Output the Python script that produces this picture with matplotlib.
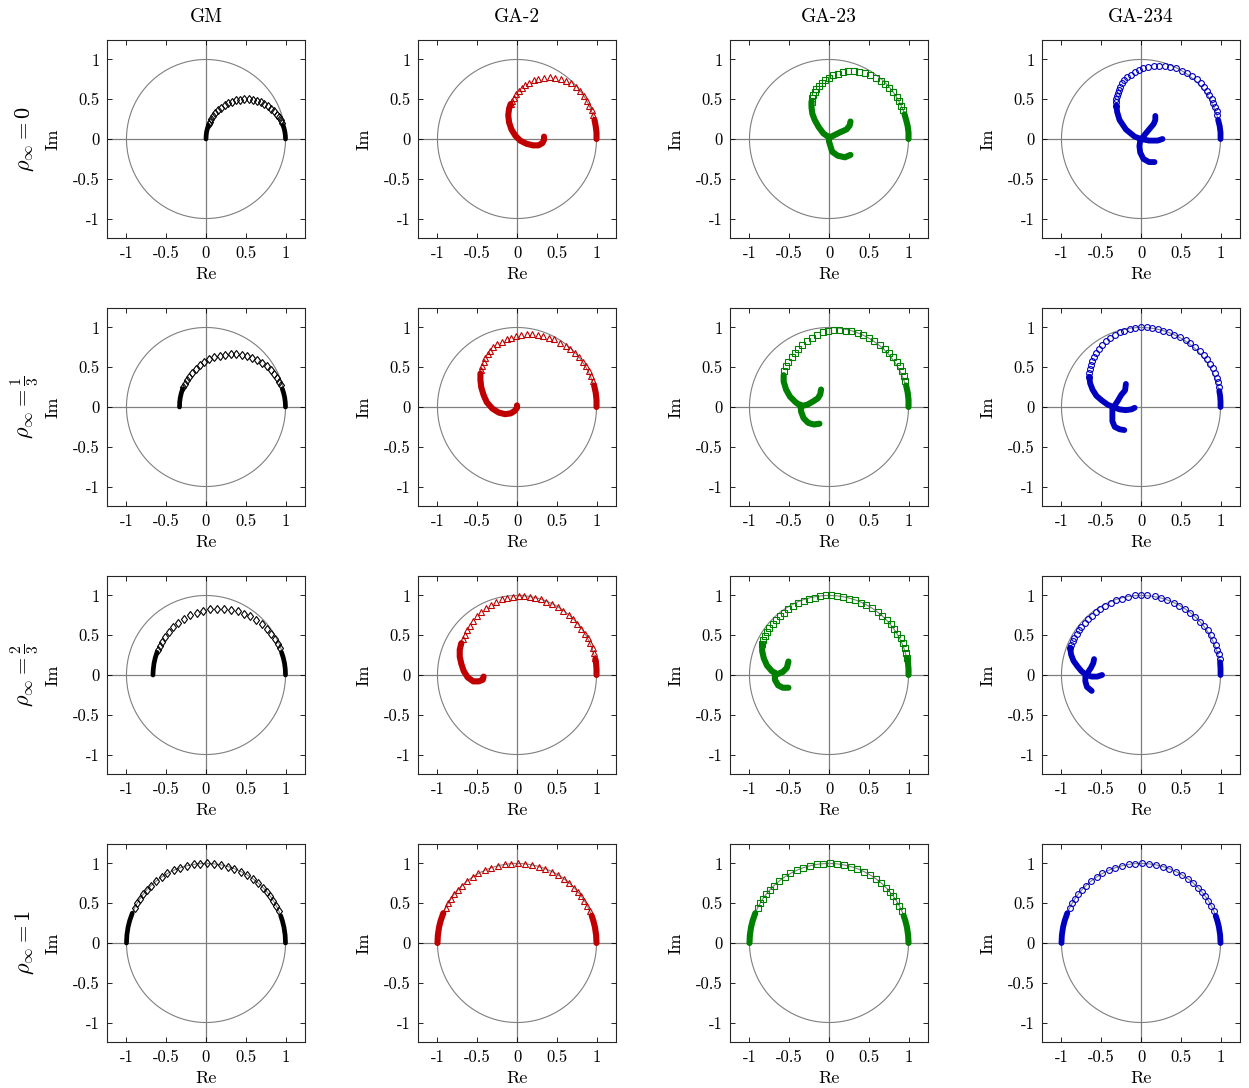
## Eigenvalue loci of GM and GA-2/23/234 schemes in the complex plane ##
import numpy as np
import matplotlib.pyplot as plt

plt.rcParams['font.family'] = 'serif'
plt.rcParams['font.serif'] = ['cmr10', 'DejaVu Serif']
plt.rcParams['mathtext.fontset'] = 'cm'
plt.rcParams['axes.unicode_minus'] = False
plt.rcParams['axes.formatter.use_mathtext'] = True

##############################################################################
############################     Data     ####################################
##############################################################################
methods = ['GM', 'GA-2', 'GA-23', 'GA-234']
rho_labels = [r'$\rho_\infty = 0$', r'$\rho_\infty = \frac{1}{3}$',
              r'$\rho_\infty = \frac{2}{3}$', r'$\rho_\infty = 1$']
ticks = [-1, -0.5, 0, 0.5, 1]
tick_labels = ['-1', '-0.5', '0', '0.5', '1']

# "arc" = isolated samples (open markers), "band" = samples packed so
# tightly that they merge into a solid stroke

# rho_inf = 1 : every scheme gives the upper unit semicircle
rho1_arc_re = [0.914, 0.883, 0.848, 0.809, 0.766, 0.719, 0.656, 0.588, 0.515, 0.438,
               0.358, 0.276, 0.191, 0.105, 0.017, -0.070, -0.156, -0.242, -0.326, -0.407,
               -0.485, -0.559, -0.629, -0.695, -0.743, -0.788, -0.829, -0.866, -0.899]
rho1_arc_im = [0.407, 0.469, 0.530, 0.588, 0.643, 0.695, 0.755, 0.809, 0.857, 0.899,
               0.934, 0.961, 0.982, 0.995, 1.000, 0.998, 0.988, 0.970, 0.946, 0.914,
               0.875, 0.829, 0.777, 0.719, 0.669, 0.616, 0.559, 0.500, 0.438]
rho1_band_re = [[1.0, 0.995, 0.98, 0.96, 0.94], [-0.927, -0.96, -0.98, -0.995, -1.0]]
rho1_band_im = [[0.0, 0.10, 0.20, 0.28, 0.342], [0.375, 0.28, 0.20, 0.10, 0.0]]

# GM, rho_inf = 0, 1/3, 2/3
gm_arc_re = [
    [0.957, 0.941, 0.919, 0.894, 0.859, 0.821, 0.779, 0.734, 0.687, 0.638, 0.587, 0.535, 0.482,
     0.430, 0.379, 0.329, 0.281, 0.235, 0.192, 0.152, 0.117, 0.090, 0.067, 0.050, 0.036],
    [0.943, 0.922, 0.893, 0.859, 0.813, 0.762, 0.706, 0.646, 0.583, 0.517, 0.449, 0.380, 0.310,
     0.240, 0.172, 0.105, 0.041, -0.021, -0.078, -0.131, -0.178, -0.213, -0.245, -0.267, -0.285],
    [0.928, 0.903, 0.866, 0.823, 0.766, 0.703, 0.633, 0.558, 0.479, 0.397, 0.312, 0.225, 0.138,
     0.051, -0.035, -0.118, -0.198, -0.274, -0.346, -0.412, -0.471, -0.515, -0.554, -0.582, -0.605],
]
gm_arc_im = [
    [0.204, 0.234, 0.272, 0.308, 0.347, 0.383, 0.414, 0.441, 0.463, 0.480, 0.492, 0.499, 0.499,
     0.495, 0.485, 0.470, 0.449, 0.424, 0.394, 0.359, 0.321, 0.287, 0.250, 0.219, 0.187],
    [0.271, 0.313, 0.364, 0.411, 0.464, 0.511, 0.553, 0.589, 0.618, 0.641, 0.657, 0.666, 0.666,
     0.660, 0.647, 0.627, 0.600, 0.566, 0.526, 0.480, 0.429, 0.383, 0.334, 0.292, 0.250],
    [0.339, 0.391, 0.454, 0.513, 0.579, 0.638, 0.691, 0.736, 0.772, 0.801, 0.821, 0.831, 0.832,
     0.825, 0.808, 0.783, 0.749, 0.706, 0.656, 0.599, 0.536, 0.478, 0.417, 0.365, 0.312],
]
gm_band_re = [
    [[1.0, 0.998, 0.992, 0.983, 0.970], [0.030, 0.017, 0.007, 0.002, 0.0]],
    [[1.0, 0.997, 0.990, 0.977, 0.960], [-0.294, -0.311, -0.324, -0.331, -0.333]],
    [[1.0, 0.997, 0.988, 0.972, 0.950], [-0.616, -0.638, -0.654, -0.663, -0.667]],
]
gm_band_im = [
    [[0.0, 0.044, 0.087, 0.129, 0.171], [0.171, 0.129, 0.087, 0.044, 0.0]],
    [[0.0, 0.058, 0.116, 0.173, 0.228], [0.228, 0.173, 0.116, 0.058, 0.0]],
    [[0.0, 0.072, 0.145, 0.216, 0.285], [0.285, 0.216, 0.145, 0.072, 0.0]],
]

# GA-2
ga2_arc_re = [
    [0.96, 0.94, 0.91, 0.88, 0.84, 0.79, 0.74, 0.68, 0.62, 0.55, 0.48, 0.41, 0.34, 0.27, 0.21,
     0.15, 0.10, 0.06, 0.02, -0.01, -0.04, -0.06, -0.08],
    [0.95, 0.93, 0.90, 0.87, 0.83, 0.78, 0.73, 0.67, 0.61, 0.54, 0.47, 0.40, 0.33, 0.26, 0.19,
     0.12, 0.05, -0.01, -0.07, -0.13, -0.19, -0.25, -0.30, -0.34, -0.37, -0.40, -0.42, -0.44, -0.45],
    [0.98, 0.97, 0.95, 0.92, 0.89, 0.85, 0.81, 0.76, 0.71, 0.65, 0.58, 0.51, 0.44, 0.37, 0.30,
     0.23, 0.16, 0.09, 0.02, -0.05, -0.12, -0.19, -0.26, -0.33, -0.39, -0.45, -0.50, -0.55, -0.59,
     -0.63, -0.66, -0.68],
]
ga2_arc_im = [
    [0.30, 0.36, 0.42, 0.48, 0.54, 0.60, 0.65, 0.70, 0.73, 0.76, 0.77, 0.78, 0.77, 0.76, 0.74,
     0.71, 0.68, 0.64, 0.60, 0.56, 0.52, 0.48, 0.44],
    [0.33, 0.39, 0.45, 0.51, 0.57, 0.63, 0.68, 0.73, 0.77, 0.81, 0.85, 0.87, 0.89, 0.91, 0.92,
     0.92, 0.91, 0.89, 0.87, 0.85, 0.82, 0.79, 0.75, 0.71, 0.67, 0.62, 0.57, 0.52, 0.47],
    [0.22, 0.28, 0.34, 0.40, 0.46, 0.52, 0.58, 0.64, 0.70, 0.75, 0.80, 0.85, 0.89, 0.92, 0.95,
     0.97, 0.98, 0.99, 0.99, 0.98, 0.97, 0.95, 0.92, 0.88, 0.84, 0.79, 0.74, 0.68, 0.62,
     0.56, 0.50, 0.45],
]
ga2_band_re = [
    [[1.0, 1.0, 0.99, 0.975],
     [-0.08, -0.10, -0.11, -0.10, -0.07, -0.02, 0.04, 0.12, 0.20, 0.27, 0.32, 0.34, 0.34]],
    [[1.0, 1.0, 0.99, 0.97],
     [-0.46, -0.46, -0.45, -0.42, -0.38, -0.31, -0.23, -0.15, -0.08, -0.03, 0.0, 0.0]],
    [[1.0, 1.0, 0.995, 0.985],
     [-0.70, -0.72, -0.72, -0.70, -0.67, -0.62, -0.55, -0.48, -0.43, -0.42]],
]
ga2_band_im = [
    [[0.0, 0.08, 0.16, 0.24],
     [0.44, 0.38, 0.30, 0.21, 0.12, 0.04, -0.02, -0.06, -0.08, -0.08, -0.05, -0.01, 0.03]],
    [[0.0, 0.09, 0.18, 0.27],
     [0.42, 0.34, 0.25, 0.15, 0.06, -0.02, -0.07, -0.09, -0.08, -0.05, -0.01, 0.02]],
    [[0.0, 0.07, 0.14, 0.20],
     [0.40, 0.32, 0.23, 0.14, 0.05, -0.03, -0.08, -0.08, -0.06, -0.02]],
]

# GA-23
ga23_arc_re = [
    [0.93, 0.91, 0.88, 0.85, 0.81, 0.76, 0.71, 0.65, 0.59, 0.52, 0.45, 0.38, 0.31, 0.24, 0.17,
     0.11, 0.05, 0.0, -0.05, -0.09, -0.13, -0.16, -0.18, -0.20, -0.21, -0.22],
    [0.96, 0.94, 0.92, 0.89, 0.85, 0.81, 0.76, 0.70, 0.64, 0.57, 0.50, 0.43, 0.36, 0.28, 0.21,
     0.13, 0.06, -0.01, -0.08, -0.15, -0.22, -0.28, -0.34, -0.39, -0.43, -0.47, -0.51, -0.54, -0.56],
    [0.98, 0.97, 0.95, 0.93, 0.90, 0.86, 0.82, 0.78, 0.73, 0.67, 0.61, 0.54, 0.47, 0.40, 0.33,
     0.25, 0.18, 0.10, 0.03, -0.04, -0.11, -0.18, -0.25, -0.32, -0.39, -0.45, -0.51, -0.57,
     -0.62, -0.67, -0.71, -0.75, -0.78, -0.81, -0.83, -0.84],
]
ga23_arc_im = [
    [0.37, 0.42, 0.48, 0.53, 0.59, 0.64, 0.69, 0.73, 0.77, 0.80, 0.83, 0.84, 0.85, 0.85, 0.84,
     0.82, 0.80, 0.77, 0.74, 0.71, 0.67, 0.63, 0.59, 0.55, 0.51, 0.47],
    [0.33, 0.39, 0.45, 0.51, 0.57, 0.63, 0.68, 0.73, 0.78, 0.83, 0.87, 0.90, 0.93, 0.95, 0.96,
     0.97, 0.97, 0.96, 0.94, 0.91, 0.87, 0.83, 0.78, 0.73, 0.68, 0.63, 0.57, 0.51, 0.45],
    [0.22, 0.28, 0.34, 0.40, 0.46, 0.52, 0.58, 0.64, 0.69, 0.74, 0.79, 0.84, 0.88, 0.91, 0.94,
     0.96, 0.98, 0.99, 1.00, 1.00, 0.99, 0.97, 0.95, 0.93, 0.90, 0.87, 0.83, 0.78,
     0.74, 0.69, 0.64, 0.59, 0.54, 0.49, 0.44, 0.39],
]
ga23_band_re = [
    [[1.0, 1.0, 0.99, 0.97, 0.95],
     [-0.22, -0.22, -0.21, -0.18, -0.13, -0.07, 0.0, 0.03, 0.13, 0.22, 0.26, 0.27],
     [0.0, 0.0, 0.04, 0.11, 0.20, 0.27]],
    [[1.0, 1.0, 0.99, 0.97],
     [-0.57, -0.57, -0.54, -0.49, -0.42, -0.35, -0.27, -0.20, -0.14, -0.11, -0.10],
     [-0.36, -0.35, -0.32, -0.26, -0.19, -0.12]],
    [[1.0, 1.0, 0.995, 0.985],
     [-0.84, -0.84, -0.82, -0.78, -0.72, -0.65, -0.58, -0.53, -0.51],
     [-0.68, -0.68, -0.64, -0.58, -0.51]],
]
ga23_band_im = [
    [[0.0, 0.08, 0.16, 0.24, 0.31],
     [0.47, 0.40, 0.32, 0.24, 0.15, 0.07, 0.02, 0.03, 0.08, 0.12, 0.17, 0.22],
     [0.03, -0.03, -0.16, -0.21, -0.23, -0.20]],
    [[0.0, 0.09, 0.18, 0.27],
     [0.40, 0.32, 0.22, 0.13, 0.06, 0.01, 0.03, 0.07, 0.11, 0.16, 0.22],
     [0.03, -0.06, -0.14, -0.20, -0.22, -0.21]],
    [[0.0, 0.07, 0.14, 0.20],
     [0.39, 0.30, 0.21, 0.12, 0.05, 0.01, 0.04, 0.09, 0.17],
     [0.02, -0.06, -0.13, -0.16, -0.16]],
]

# GA-234
ga234_arc_re = [
    [0.96, 0.95, 0.93, 0.91, 0.89, 0.86, 0.83, 0.79, 0.75, 0.70, 0.64, 0.58, 0.51, 0.44, 0.37,
     0.30, 0.23, 0.16, 0.09, 0.03, -0.03, -0.08, -0.13, -0.17, -0.21, -0.24, -0.26, -0.28,
     -0.29, -0.30, -0.31, -0.31, -0.31],
    [0.98, 0.97, 0.95, 0.93, 0.90, 0.87, 0.83, 0.79, 0.74, 0.68, 0.62, 0.56, 0.49, 0.42, 0.35,
     0.28, 0.21, 0.14, 0.07, 0.0, -0.07, -0.14, -0.21, -0.27, -0.33, -0.39, -0.44, -0.49,
     -0.53, -0.56, -0.59, -0.61, -0.63, -0.64, -0.65, -0.65],
    [0.99, 0.98, 0.96, 0.94, 0.91, 0.88, 0.84, 0.79, 0.74, 0.68, 0.62, 0.55, 0.48, 0.41, 0.33,
     0.25, 0.17, 0.08, 0.0, -0.08, -0.16, -0.24, -0.31, -0.38, -0.45, -0.51, -0.57, -0.62,
     -0.67, -0.71, -0.75, -0.78, -0.81, -0.84, -0.86, -0.88, -0.89],
]
ga234_arc_im = [
    [0.30, 0.35, 0.40, 0.45, 0.50, 0.55, 0.60, 0.65, 0.70, 0.75, 0.79, 0.83, 0.86, 0.89, 0.91,
     0.92, 0.92, 0.92, 0.91, 0.89, 0.87, 0.84, 0.81, 0.78, 0.74, 0.70, 0.66, 0.62,
     0.58, 0.54, 0.50, 0.46, 0.42],
    [0.25, 0.31, 0.37, 0.43, 0.49, 0.54, 0.60, 0.65, 0.70, 0.75, 0.80, 0.84, 0.88, 0.91, 0.94,
     0.96, 0.98, 0.99, 1.0, 1.0, 0.99, 0.98, 0.96, 0.94, 0.91, 0.87, 0.83, 0.78,
     0.73, 0.68, 0.63, 0.58, 0.53, 0.48, 0.43, 0.38],
    [0.20, 0.26, 0.32, 0.38, 0.44, 0.50, 0.56, 0.62, 0.67, 0.73, 0.78, 0.83, 0.87, 0.91, 0.94,
     0.97, 0.99, 1.0, 1.0, 1.0, 0.98, 0.96, 0.94, 0.91, 0.87, 0.83, 0.79, 0.74,
     0.70, 0.65, 0.60, 0.56, 0.51, 0.47, 0.43, 0.38, 0.34],
]
ga234_band_re = [
    [[1.0, 1.0, 0.99, 0.97],
     [-0.31, -0.30, -0.27, -0.19, -0.08, 0.0, 0.10, 0.21, 0.27],
     [0.02, 0.06, 0.11, 0.16, 0.18, 0.18],
     [-0.01, -0.02, -0.01, 0.03, 0.10, 0.17]],
    [[1.0, 1.0, 0.995, 0.985],
     [-0.65, -0.64, -0.61, -0.56, -0.49, -0.42, -0.35, -0.27, -0.19, -0.12, -0.08],
     [-0.33, -0.29, -0.25, -0.20, -0.19],
     [-0.36, -0.36, -0.36, -0.33, -0.27, -0.21]],
    [[1.0, 1.0, 0.995],
     [-0.89, -0.88, -0.85, -0.80, -0.75, -0.69, -0.62, -0.55, -0.49],
     [-0.67, -0.63, -0.60, -0.59],
     [-0.70, -0.70, -0.68, -0.62]],
]
ga234_band_im = [
    [[0.0, 0.08, 0.16, 0.24],
     [0.42, 0.34, 0.24, 0.12, 0.03, 0.0, -0.02, -0.02, 0.0],
     [0.02, 0.07, 0.13, 0.19, 0.24, 0.29],
     [-0.02, -0.09, -0.17, -0.25, -0.29, -0.29]],
    [[0.0, 0.07, 0.14, 0.20],
     [0.38, 0.30, 0.22, 0.14, 0.08, 0.03, 0.0, -0.03, -0.04, -0.03, -0.01],
     [0.02, 0.08, 0.15, 0.21, 0.29],
     [-0.02, -0.10, -0.18, -0.25, -0.28, -0.29]],
    [[0.0, 0.08, 0.16],
     [0.34, 0.26, 0.18, 0.11, 0.05, 0.0, -0.02, -0.02, 0.0],
     [0.03, 0.09, 0.15, 0.20],
     [-0.01, -0.08, -0.15, -0.20]],
]

##############################################################################
##########################     Figure        #################################
##############################################################################
arc_re = [gm_arc_re, ga2_arc_re, ga23_arc_re, ga234_arc_re]
arc_im = [gm_arc_im, ga2_arc_im, ga23_arc_im, ga234_arc_im]
band_re = [gm_band_re, ga2_band_re, ga23_band_re, ga234_band_re]
band_im = [gm_band_im, ga2_band_im, ga23_band_im, ga234_band_im]

colors = ['black', '#c00000', '#008000', '#0000c0']
markers = ['d', '^', 's', 'o']
msizes = [4.3, 4.6, 3.8, 4.2]
band_lw = [3.4, 4.4, 4.4, 4.2]

W, H = 1249, 1088
col_zero = [206, 517, 829, 1141]  # pixel centre (origin) of each column
row_zero = [139, 407, 675, 943]   # pixel centre (origin) of each row
half = 99.4                       # half axes size in pixels

fig = plt.figure(figsize=(W / 100, H / 100), dpi=100)
theta = np.linspace(0, 2 * np.pi, 400)

for j in range(4):
    c = colors[j]
    for i in range(4):
        ax = fig.add_axes([(col_zero[j] - half) / W, 1 - (row_zero[i] + half) / H,
                           2 * half / W, 2 * half / H])
        ax.plot(np.cos(theta), np.sin(theta), color='#7f7f7f', lw=0.8, zorder=1)
        ax.axhline(0, color='#7f7f7f', lw=0.9, zorder=1)
        ax.axvline(0, color='#7f7f7f', lw=0.9, zorder=1)

        if i < 3:
            re, im = arc_re[j][i], arc_im[j][i]
            bre, bim = band_re[j][i], band_im[j][i]
        else:
            re, im = rho1_arc_re, rho1_arc_im
            bre, bim = rho1_band_re, rho1_band_im

        for bx, by in zip(bre, bim):
            ax.plot(bx, by, '-', color=c, lw=band_lw[j], solid_capstyle='round',
                    solid_joinstyle='round', zorder=2)
        ax.plot(re, im, ls='none', marker=markers[j], ms=msizes[j], mfc='none',
                mec=c, mew=0.8, zorder=3)

        ax.set_xlim(-1.25, 1.25)
        ax.set_ylim(-1.25, 1.25)
        ax.set_xticks(ticks)
        ax.set_xticklabels(tick_labels)
        ax.set_yticks(ticks)
        ax.set_yticklabels(tick_labels)
        ax.tick_params(direction='in', top=True, right=True, length=3.5, width=0.6,
                       labelsize=12, pad=5)
        for sp in ax.spines.values():
            sp.set_linewidth(0.8)
            sp.set_color('#262626')
        ax.set_xlabel('Re', fontsize=13)
        ax.set_ylabel('Im', fontsize=13)
        ax.xaxis.set_label_coords(0.5, -0.14)
        ax.yaxis.set_label_coords(-0.23, 0.5)

for j, name in enumerate(methods):
    fig.text(col_zero[j] / W, 1 - 17 / H, name, ha='center', va='center', fontsize=14)
for i, lab in enumerate(rho_labels):
    fig.text(25 / W, 1 - row_zero[i] / H, lab, ha='center', va='center',
             rotation=90, fontsize=16)

fig.savefig('out.png', dpi=100)
